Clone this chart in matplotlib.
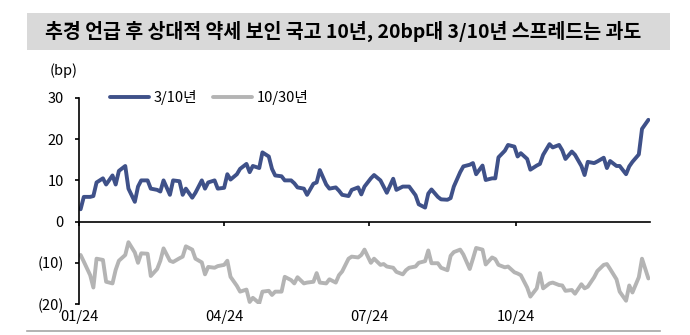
import numpy as np
import pandas as pd
import matplotlib
matplotlib.use('Agg')
import matplotlib.pyplot as plt
import matplotlib.dates as mdates
from matplotlib.patches import Rectangle
from matplotlib.lines import Line2D

plt.rcParams['font.family'] = ['Noto Sans CJK KR', 'DejaVu Sans']

# 3/10년, 10/30년 스프레드 (bp), 2영업일 간격
spread_3_10 = [
    3.0, 6.0, 6.0, 6.2, 9.5, 10.5, 9.0, 11.2, 9.0, 12.3,
    13.5, 8.0, 4.8, 8.5, 10.0, 10.0, 8.0, 7.7, 7.3, 10.0,
    6.5, 10.0, 9.8, 6.5, 8.0, 5.8, 7.0, 10.0, 8.0, 9.5,
    10.0, 8.0, 8.2, 11.5, 10.2, 11.5, 12.8, 14.0, 12.0, 13.5,
    13.0, 16.8, 15.8, 12.8, 11.2, 11.0, 10.0, 10.0, 9.3, 8.3,
    8.0, 6.5, 9.2, 9.5, 12.5, 9.0, 8.0, 8.3, 7.5, 6.5,
    6.2, 7.7, 8.3, 6.6, 8.5, 10.5, 11.3, 10.0, 8.5, 7.0,
    10.4, 7.7, 8.5, 8.5, 8.5, 6.4, 4.2, 3.4, 6.8, 7.8,
    6.0, 5.4, 5.3, 5.7, 8.5, 12.0, 13.4, 13.8, 14.2, 11.5,
    13.6, 10.1, 10.5, 10.5, 15.6, 17.2, 18.6, 18.2, 15.8, 16.6,
    15.2, 12.6, 13.6, 14.0, 16.2, 18.8, 18.0, 18.6, 17.3, 15.2,
    17.0, 16.2, 13.5, 11.3, 14.5, 14.2, 14.6, 15.5, 13.0, 14.7,
    13.5, 13.5, 11.5, 13.4, 14.5, 16.3, 22.5, 24.7,
]
spread_10_30 = [
    -8.1, -9.7, -13.0, -16.0, -9.0, -9.3, -14.6, -15.0, -11.7, -9.5,
    -8.1, -5.0, -7.5, -10.0, -7.7, -7.8, -13.2, -11.5, -9.5, -6.5,
    -9.5, -9.8, -8.9, -8.5, -6.0, -6.8, -9.0, -9.9, -12.8, -11.0,
    -11.2, -10.8, -10.5, -9.5, -13.4, -15.6, -17.0, -16.5, -19.5, -18.5,
    -19.8, -17.0, -16.8, -17.8, -17.0, -17.0, -13.4, -14.2, -15.0, -13.5,
    -15.0, -14.8, -14.6, -12.5, -14.8, -15.0, -14.0, -14.8, -13.0, -12.1,
    -9.0, -8.5, -8.7, -8.1, -6.8, -10.0, -9.0, -10.5, -10.3, -10.9,
    -11.2, -12.2, -12.8, -11.8, -11.2, -10.9, -10.0, -9.6, -7.0, -10.1,
    -10.1, -11.2, -11.8, -8.3, -7.4, -6.8, -8.0, -11.5, -9.0, -6.4,
    -6.8, -10.4, -8.7, -9.1, -10.5, -11.1, -10.9, -12.3, -12.6, -13.0,
    -16.0, -18.2, -16.2, -12.5, -16.2, -15.0, -14.8, -15.4, -15.5, -16.8,
    -16.6, -17.5, -15.2, -16.2, -15.8, -13.5, -12.0, -10.5, -10.3, -11.5,
    -14.0, -17.0, -19.2, -15.5, -17.2, -13.5, -9.0, -13.8,
]
dates = pd.bdate_range('2024-01-02', periods=len(spread_3_10), freq='2B')

title = '추경 언급 후 상대적 약세 보인 국고 10년, 20bp대 3/10년 스프레드는 과도'
yticks = [-20, -10, 0, 10, 20, 30]
yticklabels = ['(20)', '(10)', '0', '10', '20', '30']
xticks = pd.to_datetime(['2024-01-01', '2024-04-01', '2024-07-01', '2024-10-01'])

navy = '#3f5189'
grey = '#b4b4b4'

fig = plt.figure(figsize=(6.9, 3.35), dpi=100)
ax = fig.add_axes([0.1145, 0.0925, 0.8275, 0.615])

ax.plot(dates, spread_3_10, color=navy, linewidth=2.8, solid_capstyle='round', label='3/10년')
ax.plot(dates, spread_10_30, color=grey, linewidth=2.8, solid_capstyle='round', label='10/30년')

ax.set_xlim(pd.Timestamp('2024-01-01'), pd.Timestamp('2024-12-24'))
ax.set_ylim(-20, 30)
ax.set_yticks(yticks)
ax.set_yticklabels(yticklabels, fontsize=10.5)

# x축은 0 위치에, 날짜 라벨은 맨 아래
ax.spines['bottom'].set_position(('data', 0))
ax.spines['top'].set_visible(False)
ax.spines['right'].set_visible(False)
ax.spines['left'].set_linewidth(1.2)
ax.spines['bottom'].set_linewidth(1.2)
ax.set_xticks(xticks)
ax.tick_params(axis='x', labelbottom=False, direction='out', length=3, width=1.2)
ax.tick_params(axis='y', direction='out', length=3, width=1.2, pad=8)

sec = ax.secondary_xaxis(0)
sec.set_xticks(xticks)
sec.xaxis.set_major_formatter(mdates.DateFormatter('%m/%y'))
sec.spines['bottom'].set_visible(False)
sec.tick_params(axis='x', length=0, pad=4, labelsize=10.5)

fig.text(0.092, 0.79, '(bp)', fontsize=10.5, ha='center', va='center')

leg = ax.legend(loc='center left', bbox_to_anchor=(0.14, 0.71), bbox_transform=fig.transFigure,
                ncol=2, frameon=False, fontsize=10.5, handlelength=2.7, handletextpad=0.3,
                columnspacing=1.1)

# 제목 박스
fig.patches.append(Rectangle((0.039, 0.85), 0.932, 0.11, transform=fig.transFigure,
                             facecolor='#d9d9d9', edgecolor='none', zorder=0))
fig.text(0.497, 0.905, title, fontsize=14, fontweight='bold', ha='center', va='center')

# 하단 구분선
fig.add_artist(Line2D([0.039, 0.957], [0.012, 0.012], transform=fig.transFigure,
                      color='#a6a6a6', linewidth=1.2))

plt.savefig('out.png', dpi=100)
